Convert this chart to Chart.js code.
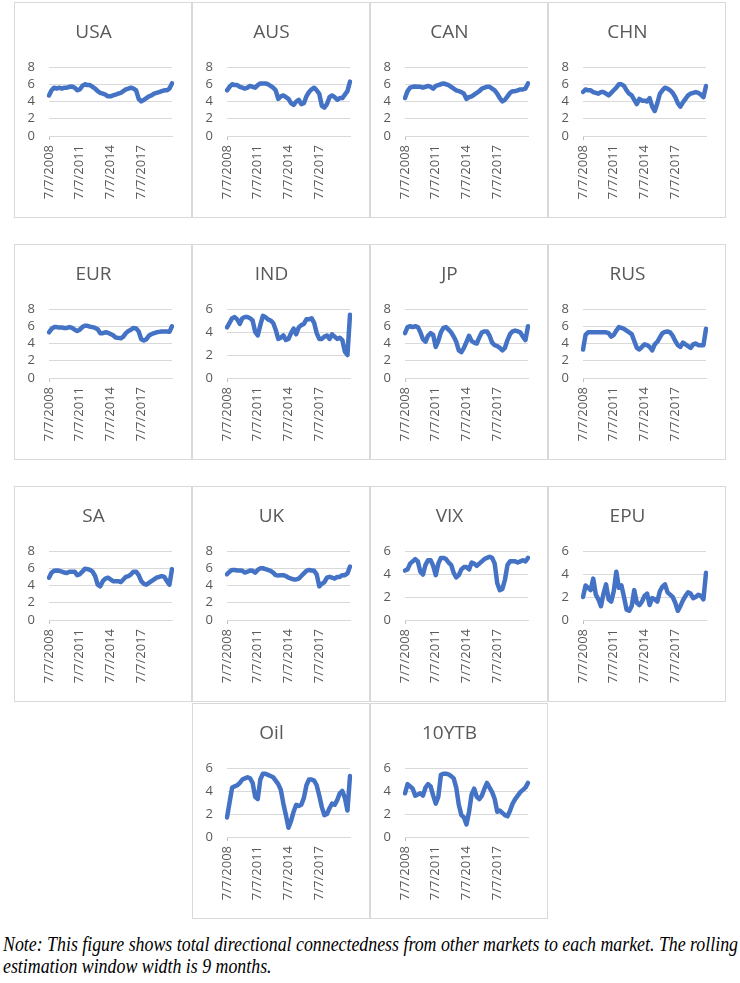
<!DOCTYPE html>
<html>
<head>
<meta charset="utf-8">
<script src="https://cdn.jsdelivr.net/npm/chart.js@4.4.1/dist/chart.umd.min.js"></script>
<style>
  body { margin: 0; background: #fff; width: 740px; height: 983px; position: relative; overflow: hidden; }
  .panel { position: absolute; width: 178px; height: 216px; box-sizing: border-box; border: 1px solid #d9d9d9; background: #fff; }
  .panel canvas { position: absolute; left: 0; top: 0; }
  .note { position: absolute; left: 3px; font-family: "Liberation Serif", "Times New Roman", serif; font-style: italic;
          font-size: 21px; line-height: 21px; color: #000; white-space: nowrap; transform-origin: 0 0; }
</style>
</head>
<body>
<div id="charts"></div>
<div class="note" id="note1" style="top:934px">Note: This figure shows total directional connectedness from other markets to each market. The rolling</div>
<div class="note" id="note2" style="top:956px">estimation window width is 9 months.</div>
<script>
// quarterly readings, 7/7/2008 .. 7/7/2020
const tickLabels = ['7/7/2008', '7/7/2011', '7/7/2014', '7/7/2017'];
const quarters = [];
for (let i = 0; i < 49; i++) {
  const m = 6 + 3 * i;
  quarters.push(((m % 12) + 1) + '/7/' + (2008 + Math.floor(m / 12)));
}

const usa = [4.7,5.3,5.6,5.5,5.6,5.5,5.6,5.6,5.7,5.75,5.6,5.3,5.4,5.8,6.0,5.9,5.9,5.7,5.5,5.2,5.0,4.9,4.8,4.6,4.6,4.7,4.8,4.9,5.0,5.2,5.4,5.5,5.6,5.5,5.3,4.3,4.0,4.2,4.4,4.6,4.7,4.9,5.0,5.1,5.2,5.3,5.3,5.5,6.1];
const aus = [5.3,5.7,6.0,5.9,5.9,5.7,5.6,5.5,5.6,5.8,5.7,5.6,5.9,6.1,6.1,6.1,6.0,5.8,5.6,5.3,4.3,4.6,4.7,4.5,4.3,3.8,3.6,4.0,4.2,3.7,3.8,4.6,5.1,5.4,5.6,5.3,4.9,3.5,3.3,3.7,4.5,4.7,4.5,4.2,4.4,4.4,4.8,5.2,6.3];
const can = [4.4,5.2,5.6,5.7,5.75,5.7,5.7,5.6,5.7,5.8,5.7,5.5,5.8,5.9,6.0,6.1,6.0,5.9,5.7,5.5,5.3,5.2,5.1,4.9,4.3,4.5,4.6,4.8,5.0,5.2,5.5,5.6,5.7,5.7,5.5,5.3,4.9,4.4,4.0,4.2,4.6,5.0,5.2,5.2,5.3,5.4,5.4,5.5,6.1];
const chn = [5.1,5.4,5.3,5.3,5.1,5.0,4.9,5.1,5.1,4.9,4.7,5.0,5.3,5.6,6.0,6.0,5.8,5.3,4.9,4.7,4.2,3.7,4.3,4.1,4.1,4.0,4.4,3.4,2.9,3.8,4.9,5.3,5.6,5.5,5.3,5.0,4.5,3.8,3.4,3.9,4.3,4.7,4.9,5.0,5.1,5.0,4.8,4.5,5.8];
const eur = [5.3,5.7,5.9,5.9,5.85,5.85,5.8,5.8,5.9,5.8,5.6,5.45,5.6,5.9,6.05,6.05,5.95,5.9,5.8,5.65,5.2,5.2,5.3,5.25,5.1,4.95,4.7,4.65,4.6,4.8,5.2,5.45,5.6,5.8,5.75,5.4,4.5,4.35,4.5,4.9,5.1,5.2,5.3,5.35,5.4,5.4,5.4,5.35,6.0];
const ind = [4.4,4.8,5.2,5.3,5.1,4.7,5.2,5.3,5.3,5.2,5.0,4.0,3.7,4.6,5.4,5.3,5.1,5.0,4.8,4.2,3.4,3.5,3.7,3.3,3.4,3.9,4.3,3.8,4.4,4.6,4.7,5.1,5.1,5.2,4.8,3.9,3.4,3.4,3.6,3.7,3.4,3.8,3.6,3.4,3.5,3.3,2.3,2.0,5.5];
const jp  = [5.2,5.9,6.0,5.9,6.0,5.9,5.3,4.5,4.2,4.9,5.2,5.0,3.6,4.3,5.3,5.8,5.9,5.6,5.3,4.8,4.2,3.2,3.0,3.5,4.2,4.9,4.3,4.1,4.0,4.7,5.3,5.4,5.4,4.9,4.1,3.8,3.7,3.5,3.2,3.5,4.4,5.1,5.4,5.5,5.4,5.3,4.8,4.4,6.0];
const rus = [3.3,5.0,5.3,5.3,5.3,5.3,5.3,5.3,5.3,5.3,5.2,4.8,5.0,5.5,5.9,5.8,5.7,5.5,5.3,5.1,4.3,3.5,3.3,3.6,3.9,3.8,3.6,3.2,3.9,4.2,4.7,5.2,5.35,5.4,5.3,4.9,4.3,3.8,3.6,4.1,3.9,3.7,3.5,3.9,4.0,3.8,3.8,3.8,5.7];
const sa  = [4.9,5.5,5.7,5.75,5.7,5.6,5.5,5.45,5.6,5.6,5.6,5.2,5.3,5.6,5.95,5.9,5.8,5.6,5.1,4.1,3.9,4.5,4.8,4.9,4.7,4.5,4.5,4.5,4.4,4.7,5.0,5.1,5.3,5.6,5.6,5.2,4.5,4.2,4.1,4.3,4.5,4.7,4.9,5.0,5.1,5.0,4.5,4.1,5.9];
const uk  = [5.3,5.6,5.8,5.8,5.75,5.75,5.7,5.5,5.6,5.75,5.7,5.5,5.8,6.0,6.0,5.9,5.8,5.7,5.5,5.2,5.15,5.2,5.2,5.1,4.9,4.8,4.7,4.7,4.8,5.1,5.4,5.7,5.8,5.75,5.7,5.3,3.9,4.2,4.4,4.9,5.0,4.9,4.8,5.0,5.0,5.2,5.2,5.4,6.2];
const vix = [4.3,4.4,4.9,5.1,5.3,5.1,4.2,3.95,4.8,5.2,5.2,4.7,3.9,4.9,5.4,5.4,5.3,5.0,4.8,4.1,3.7,3.9,4.4,4.6,4.6,4.4,5.0,4.9,4.7,4.9,5.1,5.3,5.4,5.5,5.4,4.9,3.2,2.6,2.7,3.5,4.8,5.1,5.1,5.1,5.0,5.1,5.2,5.1,5.4];
const epu = [2.0,3.0,2.8,2.6,3.6,2.2,1.8,1.2,2.3,3.1,1.8,1.6,2.5,4.2,2.8,3.0,2.0,0.9,0.8,1.2,2.6,1.5,1.3,1.6,2.1,2.3,1.3,1.9,1.8,1.6,2.5,2.9,3.1,2.4,2.2,2.0,1.5,0.8,1.2,1.7,2.1,2.4,2.3,1.9,2.0,2.2,2.1,1.8,4.1];
const oil = [1.7,3.0,4.3,4.4,4.5,4.7,5.0,5.1,5.2,5.1,4.7,3.5,3.3,5.0,5.5,5.5,5.4,5.3,5.2,4.9,4.6,4.1,2.9,1.9,0.8,1.4,2.2,2.8,2.7,2.8,3.4,4.5,5.0,5.0,4.9,4.5,3.6,2.6,1.9,2.0,2.5,2.9,2.8,3.2,3.8,4.0,3.4,2.3,5.3];
const ytb = [3.8,4.6,4.4,4.2,3.6,3.7,3.8,3.6,4.3,4.6,4.4,3.6,2.9,3.5,5.4,5.5,5.5,5.45,5.3,5.1,4.3,2.8,1.9,1.7,1.1,2.2,3.7,4.2,3.5,3.3,3.6,4.2,4.7,4.3,3.9,3.3,2.2,2.3,2.1,1.9,1.8,2.3,2.9,3.3,3.6,3.9,4.1,4.3,4.7];

// name, series, y max, row, column
const panels = [
  ['USA', usa, 8, 0, 0], ['AUS', aus, 8, 0, 1], ['CAN', can, 8, 0, 2], ['CHN', chn, 8, 0, 3],
  ['EUR', eur, 8, 1, 0], ['IND', ind, 6, 1, 1], ['JP', jp, 8, 1, 2], ['RUS', rus, 8, 1, 3],
  ['SA', sa, 8, 2, 0], ['UK', uk, 8, 2, 1], ['VIX', vix, 6, 2, 2], ['EPU', epu, 6, 2, 3],
  ['Oil', oil, 6, 3, 1], ['10YTB', ytb, 6, 3, 2]
];
const rowTops = [2, 244, 486, 703];
const colLefts = [14, 192, 370, 548];

const tickFont = { family: 'Open Sans', size: 13, lineHeight: 1 };

function makeChart(canvas, name, values, yMax) {
  return new Chart(canvas, {
    type: 'line',
    data: {
      labels: quarters,
      datasets: [{
        data: values,
        borderColor: '#4472C4',
        borderWidth: 4.5,
        pointRadius: 0,
        tension: 0,
        borderJoinStyle: 'round',
        borderCapStyle: 'round',
        fill: false
      }]
    },
    options: {
      responsive: false,
      animation: false,
      devicePixelRatio: 1,
      layout: { padding: { left: 0, right: 19, top: 0, bottom: 0 } },
      plugins: {
        legend: { display: false },
        tooltip: { enabled: false },
        title: {
          display: true,
          text: name,
          color: '#595959',
          font: { family: 'Open Sans', size: 19, weight: 'normal', lineHeight: 1.2 },
          padding: { top: 18, bottom: 23.2 }
        }
      },
      scales: {
        x: {
          ticks: {
            autoSkip: false, minRotation: 90, maxRotation: 90, padding: 5,
            color: '#595959', font: tickFont,
            callback: function(v) {
              const l = this.getLabelForValue(v);
              return tickLabels.includes(l) ? l : null;
            }
          },
          grid: {
            drawOnChartArea: false, drawTicks: true, tickLength: 4,
            color: ctx => tickLabels.includes(quarters[ctx.index]) ? '#bfbfbf' : 'rgba(0,0,0,0)'
          },
          border: { display: true, color: '#d9d9d9' },
          afterFit: s => { s.height = 81; }
        },
        y: {
          min: 0, max: yMax,
          ticks: { stepSize: 2, autoSkip: false, padding: 14, color: '#595959', font: tickFont },
          grid: { color: '#d9d9d9', drawTicks: false },
          border: { display: false },
          afterFit: s => { s.width = 34; }
        }
      }
    }
  });
}

const holder = document.getElementById('charts');
panels.forEach(([name, values, yMax, row, col]) => {
  const div = document.createElement('div');
  div.className = 'panel';
  div.style.left = colLefts[col] + 'px';
  div.style.top = rowTops[row] + 'px';
  const canvas = document.createElement('canvas');
  canvas.width = 176;
  canvas.height = 214;
  div.appendChild(canvas);
  holder.appendChild(div);
  makeChart(canvas, name, values, yMax);
});

// squeeze the note to the page width like the original
const n1 = document.getElementById('note1');
const n2 = document.getElementById('note2');
const k = 735 / n1.getBoundingClientRect().width;
n1.style.transform = 'scaleX(' + k + ')';
n2.style.transform = 'scaleX(' + k + ')';
</script>
</body>
</html>
